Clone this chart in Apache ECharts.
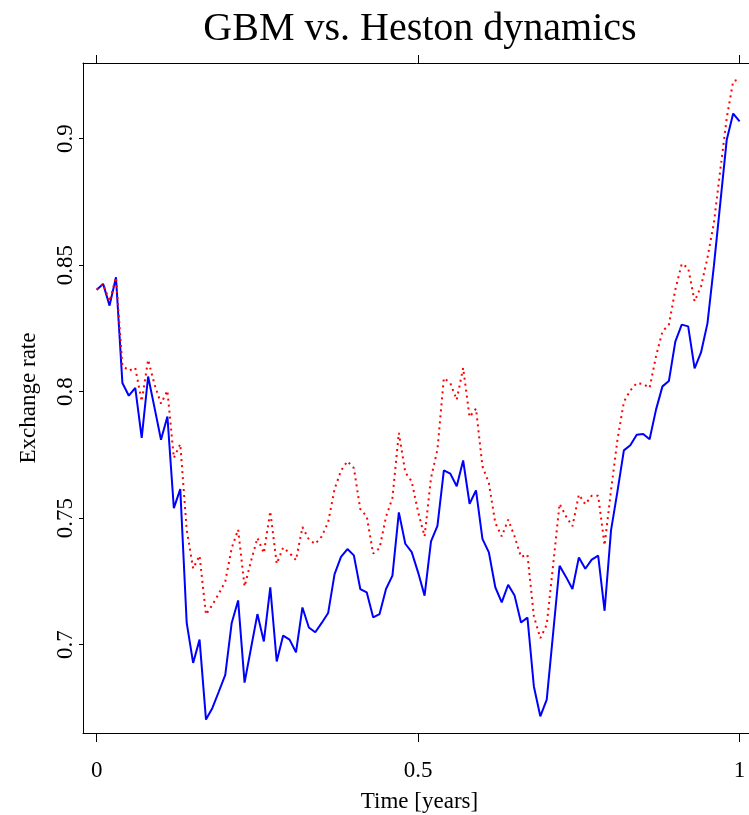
<!DOCTYPE html>
<html lang="en">
<head>
  <meta charset="UTF-8" />
  <title>GBM vs. Heston dynamics</title>
  <script src="https://cdn.jsdelivr.net/npm/echarts@6.0.0/dist/echarts.min.js"></script>
  <style>
    html, body { margin: 0; height: 100%; background: #fff; }
    #chart { width: 749px; height: 815px; }
  </style>
</head>
<body>
  <div id="chart"></div>
  <script>
    // one path sampled every 0.01 years
    const steps = 100;

    // GBM path (solid blue)
    const gbm = [
      0.8403, 0.8426, 0.8340, 0.8452, 0.8034, 0.7984, 0.8015, 0.7817, 0.8060, 0.7936,
      0.7810, 0.7902, 0.7540, 0.7615, 0.7086, 0.6928, 0.7020, 0.6704, 0.6750, 0.6815,
      0.6881, 0.7086, 0.7175, 0.6850, 0.6986, 0.7121, 0.7013, 0.7227, 0.6934, 0.7036,
      0.7020, 0.6970, 0.7147, 0.7068, 0.7049, 0.7086, 0.7125, 0.7279, 0.7347, 0.7378,
      0.7353, 0.7220, 0.7207, 0.7108, 0.7121, 0.7220, 0.7273, 0.7523, 0.7399, 0.7366,
      0.7285, 0.7194, 0.7408, 0.7470, 0.7689, 0.7676, 0.7626, 0.7728, 0.7557, 0.7610,
      0.7418, 0.7365, 0.7227, 0.7167, 0.7237, 0.7194, 0.7088, 0.7107, 0.6835, 0.6717,
      0.6783, 0.7047, 0.7312, 0.7268, 0.7220, 0.7345, 0.7300, 0.7336, 0.7352, 0.7134,
      0.7452, 0.7606, 0.7768, 0.7788, 0.7830, 0.7833, 0.7812, 0.7929, 0.8021, 0.8042,
      0.8198, 0.8265, 0.8258, 0.8092, 0.8155, 0.8270, 0.8497, 0.8746, 0.8996, 0.9099,
      0.9068
    ];

    // Heston path (dotted red)
    const heston = [
      0.8403, 0.8426, 0.8357, 0.8452, 0.8103, 0.8083, 0.8094, 0.7962, 0.8126, 0.8028,
      0.7953, 0.8004, 0.7738, 0.7793, 0.7455, 0.7301, 0.7352, 0.7119, 0.7158, 0.7202,
      0.7250, 0.7382, 0.7455, 0.7230, 0.7330, 0.7422, 0.7362, 0.7527, 0.7320, 0.7384,
      0.7362, 0.7334, 0.7465, 0.7416, 0.7398, 0.7428, 0.7484, 0.7615, 0.7688, 0.7725,
      0.7698, 0.7536, 0.7507, 0.7360, 0.7382, 0.7505, 0.7580, 0.7837, 0.7681, 0.7645,
      0.7524, 0.7428, 0.7659, 0.7771, 0.8054, 0.8034, 0.7968, 0.8094, 0.7900, 0.7933,
      0.7705, 0.7639, 0.7481, 0.7428, 0.7494, 0.7428, 0.7347, 0.7356, 0.7112, 0.7026,
      0.7079, 0.7316, 0.7557, 0.7507, 0.7468, 0.7593, 0.7555, 0.7589, 0.7589, 0.7393,
      0.7610, 0.7810, 0.7960, 0.8005, 0.8034, 0.8030, 0.8015, 0.8140, 0.8238, 0.8265,
      0.8403, 0.8505, 0.8489, 0.8357, 0.8416, 0.8529, 0.8667, 0.8877, 0.9082, 0.9227,
      0.9235
    ];

    const xTicks = [0, 0.5, 1];
    const yTicks = [0.7, 0.75, 0.8, 0.85, 0.9];

    const toPairs = arr => arr.map((v, i) => [i / steps, v]);

    const font = 'Liberation Serif';
    const chart = echarts.init(document.getElementById('chart'));

    chart.setOption({
      animation: false,
      backgroundColor: '#fff',
      title: {
        text: 'GBM vs. Heston dynamics',
        left: 415,
        textAlign: 'center',
        top: 4,
        textStyle: { fontFamily: font, fontSize: 40, fontWeight: 'normal', color: '#000' }
      },
      grid: { left: 83, right: -7, top: 63, bottom: 82, containLabel: false, outerBoundsMode: 'none' },
      xAxis: [
        {
          type: 'value',
          min: -0.0213,
          max: 1.0255,
          name: 'Time [years]',
          nameLocation: 'middle',
          nameGap: 57,
          nameTextStyle: { fontFamily: font, fontSize: 23, color: '#000' },
          axisLine: { show: true, onZero: false, lineStyle: { color: '#000', width: 1 } },
          axisTick: { show: true, customValues: xTicks, length: 9, lineStyle: { color: '#000' } },
          axisLabel: {
            customValues: xTicks,
            margin: 26,
            fontFamily: font, fontSize: 23, color: '#000',
            formatter: v => String(v)
          },
          splitLine: { show: false }
        },
        {
          type: 'value',
          position: 'top',
          min: -0.0213,
          max: 1.0255,
          axisLine: { show: true, onZero: false, lineStyle: { color: '#000', width: 1 } },
          axisTick: { show: true, customValues: xTicks, length: 8, lineStyle: { color: '#000' } },
          axisLabel: { show: false },
          splitLine: { show: false }
        }
      ],
      yAxis: {
        type: 'value',
        min: 0.6651,
        max: 0.9299,
        name: 'Exchange rate',
        nameLocation: 'middle',
        nameRotate: 90,
        nameGap: 43,
        nameTextStyle: { fontFamily: font, fontSize: 23, color: '#000' },
        axisLine: { show: true, onZero: false, lineStyle: { color: '#000', width: 1 } },
        axisTick: { show: true, customValues: yTicks, length: 4, lineStyle: { color: '#000' } },
        axisLabel: {
          customValues: yTicks,
          rotate: 90,
          margin: 6,
          fontFamily: font, fontSize: 23, color: '#000',
          formatter: v => String(v)
        },
        splitLine: { show: false }
      },
      series: [
        {
          name: 'GBM',
          type: 'line',
          data: toPairs(gbm),
          showSymbol: false,
          lineStyle: { color: '#0000ff', width: 2 },
          z: 2
        },
        {
          name: 'Heston',
          type: 'line',
          data: toPairs(heston),
          showSymbol: false,
          lineStyle: { color: '#ff0000', width: 2, type: [2, 4] },
          z: 3
        }
      ]
    });
  </script>
</body>
</html>
